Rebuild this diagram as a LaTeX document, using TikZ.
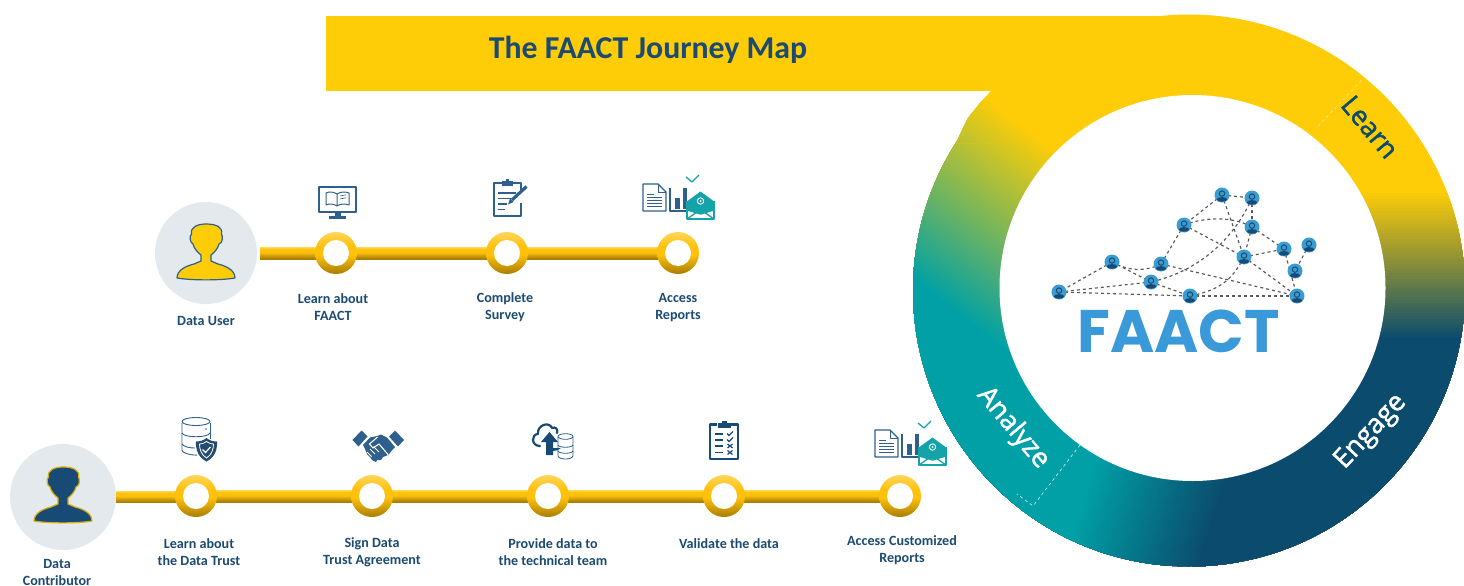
\documentclass[tikz,border=0pt]{standalone}
\usepackage{fontspec}
\setmainfont{Carlito}
\newfontfamily\ringfont[FakeBold=1.5]{Open Sans}
\newfontfamily\logofont{Poppins}
\usetikzlibrary{calc}
\definecolor{ringyellow}{HTML}{FFCD07}
\definecolor{ringdark}{HTML}{0B4C6E}
\definecolor{ringteal}{HTML}{00A0A6}
\definecolor{labelblue}{HTML}{1B4A72}
\definecolor{iconblue}{HTML}{2F5F8C}
\definecolor{icondark}{HTML}{174A74}
\definecolor{icontealc}{HTML}{14A3A8}
\definecolor{actorbg}{HTML}{E4E9EE}
\definecolor{netblue}{HTML}{3A9CD0}
\definecolor{logoblue}{HTML}{3A9AD9}
\definecolor{ringtop}{HTML}{FFD65A}
\definecolor{ringmid}{HTML}{FFC10C}
\definecolor{ringbot}{HTML}{A97D00}
\definecolor{tubetop}{HTML}{FFD84F}
\pgfdeclareverticalshading{stationshade}{100bp}{color(0bp)=(ringbot); color(25bp)=(ringbot); color(48bp)=(ringmid); color(58bp)=(ringmid); color(75bp)=(ringtop); color(100bp)=(ringtop)}
\pgfdeclareverticalshading{tubeshade}{100bp}{color(0bp)=(ringbot); color(27bp)=(ringbot); color(42bp)=(ringmid!85!black); color(52bp)=(ringmid); color(66bp)=(ringmid); color(75bp)=(tubetop); color(100bp)=(tubetop)}
\pgfdeclarelayer{bg}
\pgfdeclarelayer{mid}
\pgfsetlayers{bg,mid,main}
% half-plane colour ramps, painted over one another
\newcommand{\ramp}[8]{% px py nx ny colA colB length steps
  \foreach \k in {0,...,#8}{%
    \pgfmathsetmacro{\tt}{#7*\k/#8}
    \pgfmathsetmacro{\pc}{100*\k/#8}
    \colorlet{rampc}{#6!\pc!#5}
    \fill[rampc] ($(#1,#2)+(\tt*#3,\tt*#4)+(600*#4,-600*#3)$) --
      ($(#1,#2)+(\tt*#3,\tt*#4)-(600*#4,-600*#3)$) --
      ($(#1,#2)+(\tt*#3,\tt*#4)-(600*#4,-600*#3)+(900*#3,900*#4)$) --
      ($(#1,#2)+(\tt*#3,\tt*#4)+(600*#4,-600*#3)+(900*#3,900*#4)$) -- cycle;
  }}
\newcommand{\yellowteal}{\ramp{990}{97}{-0.61}{0.79}{ringyellow}{ringteal}{190}{48}}
\tikzset{
  x=1pt,y=-1pt,
  steplabel/.style={font=\fontsize{14.1}{17}\selectfont\bfseries,text=labelblue,align=center,inner sep=0pt},
  ringlabel/.style={font=\ringfont\fontsize{27}{30}\selectfont,inner sep=0pt},
  actor/.style={circle,fill=actorbg,minimum size=#1,inner sep=0pt},
  station/.style={circle,minimum size=42pt,inner sep=0pt,shading=stationshade},
  tube/.style={shading=tubeshade},
  netnode/.style={circle,fill=netblue,minimum size=15pt,inner sep=0pt,
    path picture={
      \draw[draw=icondark,line width=1pt] ([yshift=1.4pt]path picture bounding box.center) circle[radius=2.7];
      \fill[icondark] ([yshift=-4.4pt]path picture bounding box.center) ellipse[x radius=5.2,y radius=2.3];
    }},
  netedge/.style={draw=black!65,line width=1.15pt,dash pattern=on 3pt off 3pt},
  iconline/.style={draw=iconblue,line width=1.5pt,line join=round},
  iconfill/.style={fill=iconblue},
  thinline/.style={draw=iconblue,line width=.8pt},
  tealline/.style={draw=icontealc,line width=1.3pt,line join=round},
  personshape/.pic={
    \path[pic actions,line width=1.2pt,line join=round]
     (-29,54) .. controls (-29,46) and (-20,42) .. (-12,40) -- (-5,37) -- (-5,31)
     .. controls (-9,28) and (-12,24) .. (-13,20)
     .. controls (-16,19) and (-17,12) .. (-14.5,10)
     .. controls (-16,3) and (-8,0) .. (0,0)
     .. controls (10,0) and (17,3) .. (15.5,10)
     .. controls (17,12) and (17,19) .. (13,20)
     .. controls (12,24) and (9,28) .. (5,31)
     -- (5,37) -- (12,40) .. controls (20,42) and (29,46) .. (29,54)
     .. controls (15,56.5) and (-15,56.5) .. (-29,54) -- cycle;
  },
  reportsicon/.pic={
    \draw[iconline,line width=1.3pt] (0,0) -- (15,0) -- (23,8) -- (23,27) -- (0,27) -- cycle;
    \draw[iconline,line width=1pt] (15,0) -- (15,8) -- (23,8);
    \foreach \yy in {13,16,19,22}{\draw[thinline] (4,\yy) -- (19,\yy);}
    \draw[thinline] (4,10) -- (11,10);
    \draw[iconline,line width=1.3pt] (27,4) -- (27,27) -- (46,27);
    \fill[iconfill] (32,14) rectangle (36.5,25);
    \fill[iconfill] (39.5,4) rectangle (44,25);
    \draw[tealline] (43,-7) -- (49,-2) -- (56,-9);
    \fill[white] (44,17) -- (57.5,7) -- (71,17) -- (71,35) -- (44,35) -- cycle;
    \fill[icontealc] (44.5,17) -- (57.5,7.5) -- (70.5,17) -- (70.5,26) -- (57.5,30) -- (44.5,26) -- cycle;
    \draw[white,line width=.9pt] (57.5,17) circle[radius=3.2];
    \fill[white] (57.5,17) circle[radius=1];
    \draw[tealline] (44,17) -- (44,35) -- (71,35) -- (71,17);
    \draw[tealline] (44,26) -- (57.5,30) -- (71,26);
    \draw[tealline] (44,35) -- (54,28);
    \draw[tealline] (71,35) -- (61,28);
  },
}
\begin{document}
\begin{tikzpicture}
\useasboundingbox (0,0) rectangle (1464,586);
% ---------- ring and banner
\begin{pgfonlayer}{bg}
  \begin{scope}
    \clip (1189,290.5) circle[radius=276];
    \fill[ringyellow] (900,0) rectangle (1470,590);
    \begin{scope}
      \clip (1192,150) rectangle (1470,590);
      \ramp{1300}{190}{0}{1}{ringyellow}{ringdark}{147}{48}
    \end{scope}
    \begin{scope}
      \clip (900,280) rectangle (1300,590);
      \ramp{1215}{520}{-0.95}{-0.3}{ringdark}{ringteal}{131}{40}
    \end{scope}
    \begin{scope}
      \clip (900,0) rectangle (1192,400);
      \yellowteal
    \end{scope}
  \end{scope}
  \begin{scope}
    \clip (991,91) -- (1012,91) -- (1012,143) -- (956,143) -- (968,118) -- (980,103) -- cycle;
    \fill[ringyellow] (900,0) rectangle (1192,400);
    \yellowteal
  \end{scope}
  \fill[ringyellow] (326,16.5) rectangle (1190,91);
  \fill[white] (1192.5,288) circle[radius=193];
  \draw[white!85!ringteal,line width=.6pt,dashed] (1080,445) -- (1033,506) -- (1017,494);
  \draw[white!55!ringyellow,line width=.6pt,dashed] (1318,126) -- (1362,80);
\end{pgfonlayer}
\node[font=\fontsize{31.8}{34}\selectfont\bfseries,text=labelblue,inner sep=0pt] (title) at (648,50) {The FAACT Journey Map};
\node[ringlabel,text=ringdark,rotate=-50] (learn) at (1370,127) {Learn};
\node[ringlabel,text=white,rotate=47] (engage) at (1371,432) {Engage};
\node[ringlabel,text=white,rotate=-50] (analyze) at (1013,428) {Analyze};
% ---------- actors
\node[actor=102pt] (user) at (206,253) {};
\node[actor=106pt] (contrib) at (63,497) {};
\pic[fill=ringyellow,draw=iconblue] at (206,224) {personshape};
\pic[fill=icondark,draw=ringyellow!85!black] at (63,467) {personshape};
\node[steplabel] (userl) at (206,321) {Data User};
\node[steplabel] (contribl) at (57,572.5) {Data\\Contributor};
% ---------- stations
\foreach \nm/\xx in {a1/336,a2/507,a3/678}{\node[station] (\nm) at (\xx,253) {};}
\foreach \nm/\xx in {b1/196,b2/372,b3/548,b4/724,b5/900}{\node[station] (\nm) at (\xx,496) {};}
\foreach \nm in {a1,a2,a3,b1,b2,b3,b4,b5}{\fill[white] (\nm) circle[radius=13];}
\begin{pgfonlayer}{mid}
  \shade[tube] ([shift={(3pt,6pt)}]user.east) rectangle ([yshift=-6pt]a1.center);
  \shade[tube] ([yshift=6pt]a1.center) rectangle ([yshift=-6pt]a2.center);
  \shade[tube] ([yshift=6pt]a2.center) rectangle ([yshift=-6pt]a3.center);
  \shade[tube] ([yshift=6pt]contrib.east) rectangle ([yshift=-6pt]b1.center);
  \shade[tube] ([yshift=6pt]b1.center) rectangle ([yshift=-6pt]b2.center);
  \shade[tube] ([yshift=6pt]b2.center) rectangle ([yshift=-6pt]b3.center);
  \shade[tube] ([yshift=6pt]b3.center) rectangle ([yshift=-6pt]b4.center);
  \shade[tube] ([yshift=6pt]b4.center) rectangle ([yshift=-6pt]b5.center);
\end{pgfonlayer}
\node[steplabel] (la1) at (333,307.5) {Learn about\\FAACT};
\node[steplabel] (la2) at (505,307.5) {Complete\\Survey};
\node[steplabel] (la3) at (678,307.5) {Access\\Reports};
\node[steplabel] (lb1) at (199,552.5) {Learn about\\the Data Trust};
\node[steplabel] (lb2) at (372,552.5) {Sign Data\\Trust Agreement};
\node[steplabel] (lb3) at (553,552.5) {Provide data to\\the technical team};
\node[steplabel] (lb4) at (729,544) {Validate the data};
\node[steplabel] (lb5) at (902,550) {Access Customized\\Reports};
% ---------- icons: monitor with book
\draw[iconline,line width=2pt] (319,187) rectangle (355.5,212);
\fill[iconfill] (334.5,212) rectangle (340.5,216);
\fill[iconfill] (329,216) rectangle (346,218.5);
\draw[iconline,line width=1pt] (337,194) .. controls (333,191.5) and (329,191.5) .. (326,193) -- (326,205) .. controls (329,203.5) and (333,203.5) .. (337,206)
  .. controls (341,203.5) and (345,203.5) .. (349,205) -- (349,193) .. controls (345,191.5) and (341,191.5) .. (337,194) -- (337,206);
\draw[thinline,line width=.6pt] (340,196) -- (346,194.8) (340,199) -- (346,197.8);
% clipboard with pencil
\draw[iconline,line width=2pt] (503,183) -- (493.5,183) -- (493.5,215.5) -- (521,215.5) -- (521,203);
\draw[iconline,line width=2pt] (512,183) -- (521,183) -- (521,190);
\fill[iconfill] (502,181) rectangle (512.5,186);
\fill[iconfill] (505.5,178.5) rectangle (509,182);
\draw[iconline,line width=1.3pt] (498,193) -- (516,193) (498,198.5) -- (514,198.5) (498,204) -- (507,204) (498,209.5) -- (505,209.5);
\draw[iconblue,line width=3.2pt] (512,200) -- (526.5,186.5);
\fill[iconfill] (510,198.5) -- (513.5,202) -- (508,204.5) -- cycle;
% reports
\pic at (643,184) {reportsicon};
\pic at (875,430) {reportsicon};
% database with shield
\draw[iconline,line width=.9pt] (182,423) -- (182,450) .. controls (182,454) and (195,455.5) .. (197,455);
\draw[iconline,line width=.9pt] (210,423) -- (210,439);
\draw[iconline,line width=.9pt] (196,421.5) ellipse[x radius=14,y radius=4];
\draw[iconline,line width=.9pt] (182,433) .. controls (184,438) and (208,438) .. (210,433);
\draw[iconline,line width=.9pt] (182,444) .. controls (184,447) and (190,448) .. (195,448);
\fill[iconblue] (206,429) circle[radius=.8];
\fill[white] (206.5,437) .. controls (203,440) and (199,440.5) .. (195,440.5) .. controls (194.5,450) and (198,458) .. (206.5,462.5) .. controls (215,458) and (218.5,450) .. (218,440.5) .. controls (214,440.5) and (210,440) .. (206.5,437) -- cycle;
\fill[iconblue!80!black] (206.5,438) .. controls (203,441) and (199,441.5) .. (196,441.5) .. controls (195.5,450) and (198.5,457.5) .. (206.5,461.5) .. controls (214.5,457.5) and (217.5,450) .. (217,441.5) .. controls (214,441.5) and (210,441) .. (206.5,438) -- cycle;
\draw[white,line width=.8pt] (206.5,441.5) .. controls (204,443.5) and (201.5,444) .. (199.5,444) .. controls (199.5,449.5) and (201.5,455) .. (206.5,458) .. controls (211.5,455) and (213.5,449.5) .. (213.5,444) .. controls (211.5,444) and (209,443.5) .. (206.5,441.5) -- cycle;
\draw[white,line width=1.2pt] (202.5,449.5) -- (205.5,452.5) -- (210.5,447);
% handshake
\fill[iconfill] (352.5,440) -- (361.5,430.5) -- (367.5,436.5) -- (358.5,446.5) -- cycle;
\fill[iconfill] (404,440) -- (395,430.5) -- (389,436.5) -- (398,446.5) -- cycle;
\fill[iconfill] (363,445) -- (370,437.5) -- (377,436) -- (381,434.5) -- (387,437.5) -- (395,447) -- (388,455) -- (383,457) -- (381,460) -- (377,460) -- (376,462) -- (372,460) -- (370,457) -- (367,454) -- (365,449) -- cycle;
\draw[white,line width=1pt] (370,449) -- (375,454) (373.5,446.5) -- (379,452) (367,452) -- (371.5,456.5);
\draw[white,line width=1.1pt,line join=round] (388,454.5) -- (379,444) -- (373,448) -- (369.5,444) -- (377.5,437);
% cloud upload with database
\draw[draw=icondark,line width=2.2pt,line join=round,line cap=round] (540,446) .. controls (531,446) and (531,434) .. (538,434) .. controls (537,425) and (549,421) .. (552,428) .. controls (556,426) and (558,430) .. (557,433);
\fill[icondark] (549.5,432) -- (558,442) -- (553,442) -- (553,455) -- (546,455) -- (546,442) -- (541,442) -- cycle;
\fill[icondark] (553,448) -- (561,448) .. controls (559,450) and (556,451) .. (553,451) -- cycle;
\draw[thinline] (558,437) -- (558,456) .. controls (559,460) and (572,460) .. (573,456) -- (573,437);
\draw[thinline] (565.5,436.5) ellipse[x radius=7.5,y radius=2.8];
\draw[thinline] (558,445) .. controls (559,448) and (572,448) .. (573,445);
\draw[thinline] (558,451) .. controls (559,454) and (572,454) .. (573,451);
% checklist
\draw[draw=icondark,line width=2.2pt,line join=round] (717,424.5) -- (710.2,424.5) -- (710.2,459) -- (738.3,459) -- (738.3,424.5) -- (731,424.5);
\fill[icondark] (718,423) rectangle (730.5,428);
\fill[icondark] (722,420.5) rectangle (726.5,424);
\draw[draw=icondark,line width=1.6pt] (715,434) -- (723,434) (715,440) -- (723,440) (715,446) -- (723,446) (715,452.5) -- (723,452.5);
\draw[draw=icondark,line width=1.2pt] (727,433.5) -- (729,435.5) -- (733,431.5) (727,439.5) -- (729,441.5) -- (733,437.5);
\draw[draw=icondark,line width=1.2pt] (727.5,444) -- (732.5,448) (732.5,444) -- (727.5,448) (727.5,450.5) -- (732.5,454.5) (732.5,450.5) -- (727.5,454.5);
% ---------- network
\foreach \nm/\xx/\yy in {n1/1222/195,n2/1252/198,n3/1184/225,n4/1252/227,n5/1284/249,n6/1309/245,n7/1244/257,n8/1295/271,n9/1112/262,n10/1161/264,n11/1151/282,n12/1059/292,n13/1190/296,n14/1297/296}{\node[netnode] (\nm) at (\xx,\yy) {};}
\begin{pgfonlayer}{mid}
  \foreach \pa/\pb in {n1/n2,n1/n3,n1/n7,n2/n4,n3/n10,n3/n7,n4/n7,n4/n5,n7/n5,n5/n14,n6/n8,n7/n14,n9/n12,n9/n11,n11/n13,n12/n11,n12/n13,n13/n14,n10/n14}{\draw[netedge] (\pa.center) -- (\pb.center);}
  \draw[netedge] (n2.center) .. controls (1232,243) and (1195,272) .. (n11.center);
  \draw[netedge] (n3.center) .. controls (1205,217) and (1232,216) .. (n4.center);
  \draw[netedge] (n7.center) .. controls (1232,280) and (1220,290) .. (n13.center);
  \draw[netedge] (n9.center) .. controls (1128,271) and (1145,272) .. (n10.center);
\end{pgfonlayer}
\node[font=\logofont\bfseries\fontsize{60}{64}\selectfont,text=logoblue,inner sep=0pt] (logo) at (1178.5,331) {FAACT};
\end{tikzpicture}
\end{document}
